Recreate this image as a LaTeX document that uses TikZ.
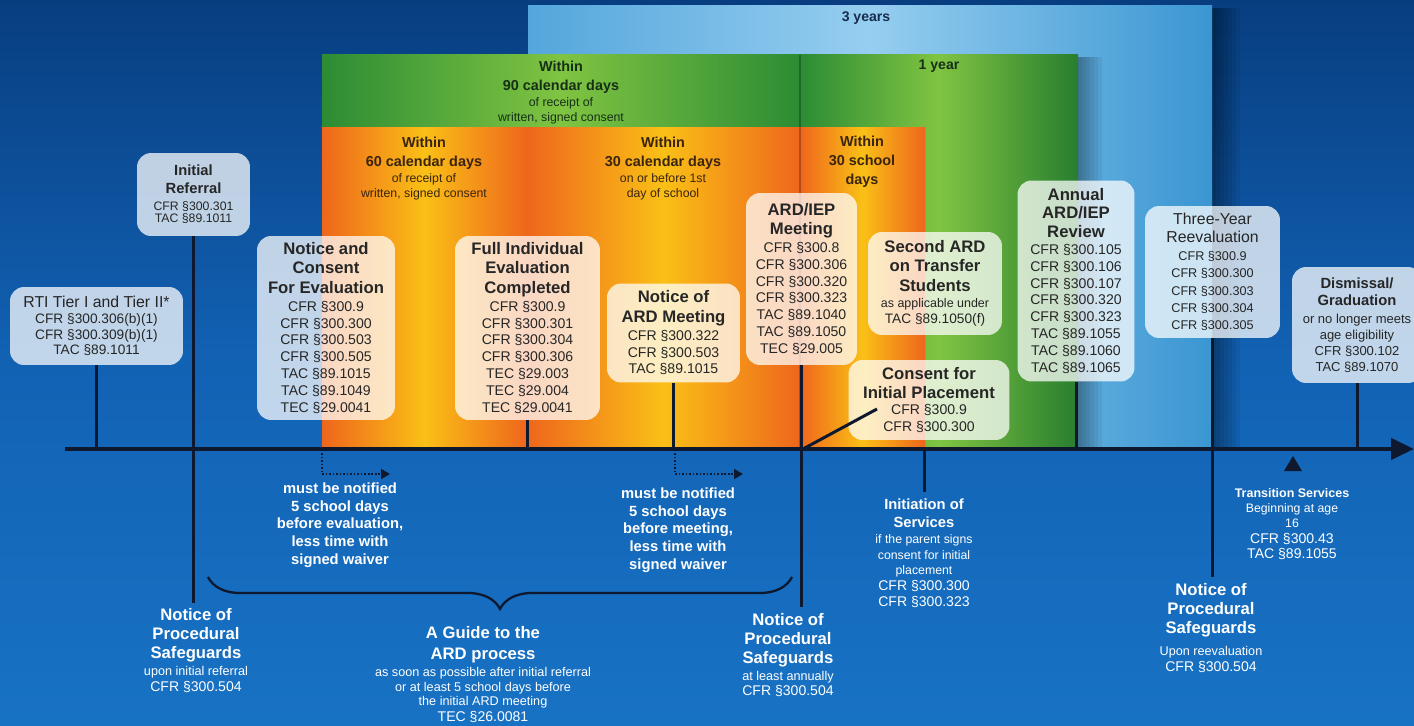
\documentclass[tikz,border=0pt]{standalone}
\usepackage{fontspec}
\setmainfont{Liberation Sans}
\usetikzlibrary{arrows.meta,decorations.pathreplacing}

\definecolor{bgtop}{RGB}{8,62,128}
\definecolor{bgmid}{RGB}{18,98,180}
\definecolor{bgbot}{RGB}{24,114,196}
\definecolor{axisc}{RGB}{14,24,46}
\definecolor{boxtext}{RGB}{38,38,38}
\definecolor{orgedge}{RGB}{238,102,28}
\definecolor{orgmid}{RGB}{250,192,22}
\definecolor{grnedge}{RGB}{44,140,52}
\definecolor{grnmid}{RGB}{128,196,66}
\definecolor{bluL}{RGB}{84,166,220}
\definecolor{bluM}{RGB}{150,206,240}
\definecolor{bluR}{RGB}{58,150,210}
\definecolor{orgtext}{RGB}{58,36,14}
\definecolor{grntext}{RGB}{22,48,24}
\definecolor{blutext}{RGB}{24,44,78}

\def\bhead#1{{\fontsize{9.5}{11}\selectfont\bfseries #1}}
\def\shead#1{{\fontsize{8.4}{10}\selectfont\bfseries #1}}
\def\spanhd#1{{\fontsize{8.2}{9}\selectfont\bfseries #1}}

\tikzset{
  refbox/.style={fill=white, fill opacity=.74, text opacity=1, rounded corners=0.28cm, align=center, inner sep=1pt, text=boxtext, font=\fontsize{8}{9.6}\selectfont},
  stem/.style={draw=axisc, line width=1.7pt},
  waitarrow/.style={draw=axisc, densely dotted, line width=1pt, -{Triangle[length=5pt,width=5.5pt]}},
  softedge/.style={fill=black, opacity=.06},
  notewhite/.style={align=center, text=white, font=\fontsize{8.4}{10.1}\selectfont\bfseries},
  lowlbl/.style={align=center, text=white, font=\fontsize{7.2}{8.6}\selectfont},
  spanlbl/.style={align=center, font=\fontsize{7}{8.6}\selectfont},
}

\begin{document}
\begin{tikzpicture}[x=0.02cm,y=-0.02cm]
%%%%% START %%%%%

% backdrop
\fill[top color=bgtop, bottom color=bgbot, middle color=bgmid] (0,0) rectangle (1414,726);
\useasboundingbox (0,0) rectangle (1414,726);

% time spans (soft shadow built from stacked strips)
\foreach \w in {4,8,...,28} {\fill[softedge] (1212,8) rectangle (1212+\w,449);}
\fill[left color=bluL, right color=bluR, middle color=bluM] (528,6) rectangle (1212,449);
\fill[left color=grnedge, right color=grnedge, middle color=grnmid] (322,55) rectangle (800,449);
\fill[left color=grnedge, right color=grnedge!90!black, middle color=grnmid] (800,55) rectangle (1078,449);
\foreach \w in {4,8,...,24} {\fill[softedge] (1078,57) rectangle (1078+\w,449);}
\fill[left color=orgedge, right color=orgedge, middle color=orgmid] (322,128) rectangle (527,449);
\fill[left color=orgedge, right color=orgedge, middle color=orgmid] (527,128) rectangle (800,449);
\fill[left color=orgedge, right color=orgedge, middle color=orgmid] (800,128) rectangle (925,449);
\draw[black, opacity=.25, line width=1.2pt] (800,55) -- (800,449);

\node[spanlbl, text=blutext, font=\fontsize{8}{9}\selectfont\bfseries] (yr3) at (866,18) {3 years};
\node[spanlbl, text=grntext, font=\fontsize{8}{9}\selectfont\bfseries] (yr1) at (939,66) {1 year};
\node[spanlbl, text=grntext] (d90) at (561,93) {\spanhd{Within}\\[2.2pt]\spanhd{90 calendar days}\\[0.5pt]of receipt of\\written, signed consent};
\node[spanlbl, text=orgtext] (d60) at (424,169) {\spanhd{Within}\\[2.2pt]\spanhd{60 calendar days}\\[0.5pt]of receipt of\\written, signed consent};
\node[spanlbl, text=orgtext] (d30c) at (663,169) {\spanhd{Within}\\[2.2pt]\spanhd{30 calendar days}\\[0.5pt]on or before 1st\\day of school};
\node[spanlbl, text=orgtext] (d30s) at (862,162) {\spanhd{Within}\\[2.2pt]\spanhd{30 school}\\[2.2pt]\spanhd{days}};

% events above the line
\node[refbox, minimum width=3.46cm, minimum height=1.56cm, font=\fontsize{7.8}{8.7}\selectfont] (rti) at (96.5,326)
  {{\fontsize{9}{10}\selectfont RTI Tier I and Tier II*}\\[0.5pt]CFR §300.306(b)(1)\\CFR §300.309(b)(1)\\TAC §89.1011};
\node[refbox, minimum width=2.26cm, minimum height=1.66cm, font=\fontsize{7}{7.2}\selectfont] (ref) at (193.5,194.5)
  {\shead{Initial}\\[3pt]\shead{Referral}\\[2pt]CFR §300.301\\TAC §89.1011};
\node[refbox, minimum width=2.76cm, minimum height=3.68cm] (nac) at (326,328)
  {\bhead{Notice and}\\[1.4pt]\bhead{Consent}\\[1.4pt]\bhead{For Evaluation}\\[0.6pt]CFR §300.9\\CFR §300.300\\CFR §300.503\\CFR §300.505\\TAC §89.1015\\TAC §89.1049\\TEC §29.0041};
\node[refbox, minimum width=2.9cm, minimum height=3.68cm] (fie) at (527.5,328)
  {\bhead{Full Individual}\\[1.4pt]\bhead{Evaluation}\\[1.4pt]\bhead{Completed}\\[0.6pt]CFR §300.9\\CFR §300.301\\CFR §300.304\\CFR §300.306\\TEC §29.003\\TEC §29.004\\TEC §29.0041};
\node[refbox, minimum width=2.66cm, minimum height=1.98cm] (nard) at (673.5,333)
  {\bhead{Notice of}\\[1.4pt]\bhead{ARD Meeting}\\[0.6pt]CFR §300.322\\CFR §300.503\\TAC §89.1015};
\node[refbox, minimum width=2.22cm, minimum height=3.44cm] (aim) at (801.5,279)
  {\bhead{ARD/IEP}\\[1.4pt]\bhead{Meeting}\\[0.4pt]CFR §300.8\\CFR §300.306\\CFR §300.320\\CFR §300.323\\TAC §89.1040\\TAC §89.1050\\TEC §29.005};
\node[refbox, minimum width=2.68cm, minimum height=2.06cm] (sard) at (935,283.5)
  {\bhead{Second ARD}\\[1.4pt]\bhead{on Transfer}\\[1.4pt]\bhead{Students}\\[-0.5pt]{\fontsize{7.1}{8}\selectfont as applicable under}\\{\fontsize{7.8}{8}\selectfont TAC §89.1050(f)}};
\node[refbox, minimum width=3.22cm, minimum height=1.6cm] (cip) at (929,400)
  {\bhead{Consent for}\\[1.4pt]\bhead{Initial Placement}\\[-0.2pt]CFR §300.9\\CFR §300.300};
\node[refbox, minimum width=2.34cm, minimum height=4.02cm] (annual) at (1076,281)
  {\bhead{Annual}\\[0.8pt]\bhead{ARD/IEP}\\[0.8pt]\bhead{Review}\\[0.2pt]CFR §300.105\\CFR §300.106\\CFR §300.107\\CFR §300.320\\CFR §300.323\\TAC §89.1055\\TAC §89.1060\\TAC §89.1065};
\node[refbox, minimum width=2.7cm, minimum height=2.64cm, font=\fontsize{7.2}{9.8}\selectfont] (three) at (1212.5,272)
  {{\fontsize{9}{10}\selectfont Three-Year}\\[0.4pt]{\fontsize{9}{10}\selectfont Reevaluation}\\[0.4pt]CFR §300.9\\CFR §300.300\\CFR §300.303\\CFR §300.304\\CFR §300.305};
\node[refbox, minimum width=2.6cm, minimum height=2.32cm, font=\fontsize{7.4}{9}\selectfont] (dism) at (1357,325)
  {\shead{Dismissal/}\\[0.7pt]\shead{Graduation}\\[1.2pt]or no longer meets\\age eligibility\\CFR §300.102\\TAC §89.1070};

% events below the line
\node[notewhite] (wait1) at (340,525) {must be notified\\5 school days\\before evaluation,\\less time with\\signed waiver};
\node[notewhite] (wait2) at (678,530) {must be notified\\5 school days\\before meeting,\\less time with\\signed waiver};
\node[lowlbl, font=\fontsize{7.2}{9.4}\selectfont] (nps1) at (196,651)
  {\bhead{Notice of}\\[1.4pt]\bhead{Procedural}\\[1.4pt]\bhead{Safeguards}\\upon initial referral\\{\fontsize{8}{9}\selectfont CFR §300.504}};
\node[lowlbl, font=\fontsize{7.2}{8.5}\selectfont] (guide) at (483,675)
  {\bhead{A Guide to the}\\[2.9pt]\bhead{ARD process}\\[1.2pt]as soon as possible after initial referral\\or at least 5 school days before\\the initial ARD meeting\\[0.6pt]{\fontsize{8}{9}\selectfont TEC §26.0081}};
\node[lowlbl, font=\fontsize{7.2}{8.5}\selectfont] (nps2) at (788,655)
  {\bhead{Notice of}\\[2.3pt]\bhead{Procedural}\\[2.3pt]\bhead{Safeguards}\\[1.2pt]at least annually\\{\fontsize{8}{9}\selectfont CFR §300.504}};
\node[lowlbl, font=\fontsize{7.2}{9.1}\selectfont] (nps3) at (1211,628)
  {\bhead{Notice of}\\[1.7pt]\bhead{Procedural}\\[1.7pt]\bhead{Safeguards}\\[3.4pt]Upon reevaluation\\{\fontsize{8}{9}\selectfont CFR §300.504}};
\node[lowlbl, font=\fontsize{7}{8.6}\selectfont] (init) at (924,553)
  {\shead{Initiation of}\\[2.2pt]\shead{Services}\\[0.5pt]if the parent signs\\consent for initial\\placement\\[0.5pt]{\fontsize{8}{9}\selectfont CFR §300.300}\\[0.7pt]{\fontsize{8}{9}\selectfont CFR §300.323}};
\node[lowlbl, font=\fontsize{7}{8.8}\selectfont] (ts) at (1292,524)
  {{\fontsize{7.1}{8}\selectfont\bfseries Transition Services}\\Beginning at age\\16\\{\fontsize{8}{9}\selectfont CFR §300.43}\\{\fontsize{8}{9}\selectfont TAC §89.1055}};

% timeline
\coordinate (axL) at (65,449);
\coordinate (axR) at (1414,449);
\draw[stem] (rti.south) -- (rti.south |- axL);
\draw[stem] (ref.south) -- (ref.south |- nps1.north);
\draw[stem] (fie.south) -- (fie.south |- axL);
\draw[stem] (nard.south) -- (nard.south |- axL);
\draw[stem] (aim.south) -- (aim.south |- nps2.north);
\draw[stem] (annual.south) -- (annual.south |- axL);
\draw[stem] (three.south) -- (three.south |- nps3.north);
\draw[stem] (dism.south) -- (dism.south |- axL);
\draw[stem] (init.north |- axL) -- (init.north);
\coordinate (cipknee) at (877,409);
\coordinate (cipfoot) at (803,449);
\draw[stem] (cipfoot) -- (cipknee);
\draw[axisc, line width=2.4pt, -{Triangle[length=0.46cm,width=0.42cm]}] (axL) -- (axR);
\fill[axisc] (1284,471) -- (1302,471) -- (1293,456) -- cycle;

% notice periods
\coordinate (w1a) at (322,453);
\coordinate (w1b) at (390,474);
\coordinate (w2a) at (675,453);
\coordinate (w2b) at (743,474);
\draw[waitarrow] (w1a) |- (w1b);
\draw[waitarrow] (w2a) |- (w2b);

% brace
\coordinate (brL) at (208,577);
\coordinate (brR) at (792,577);
\draw[axisc, line width=1.3pt, decorate, decoration={brace, mirror, amplitude=0.64cm}] (brL) -- (brR);

%%%%% END %%%%%
\end{tikzpicture}
\end{document}
